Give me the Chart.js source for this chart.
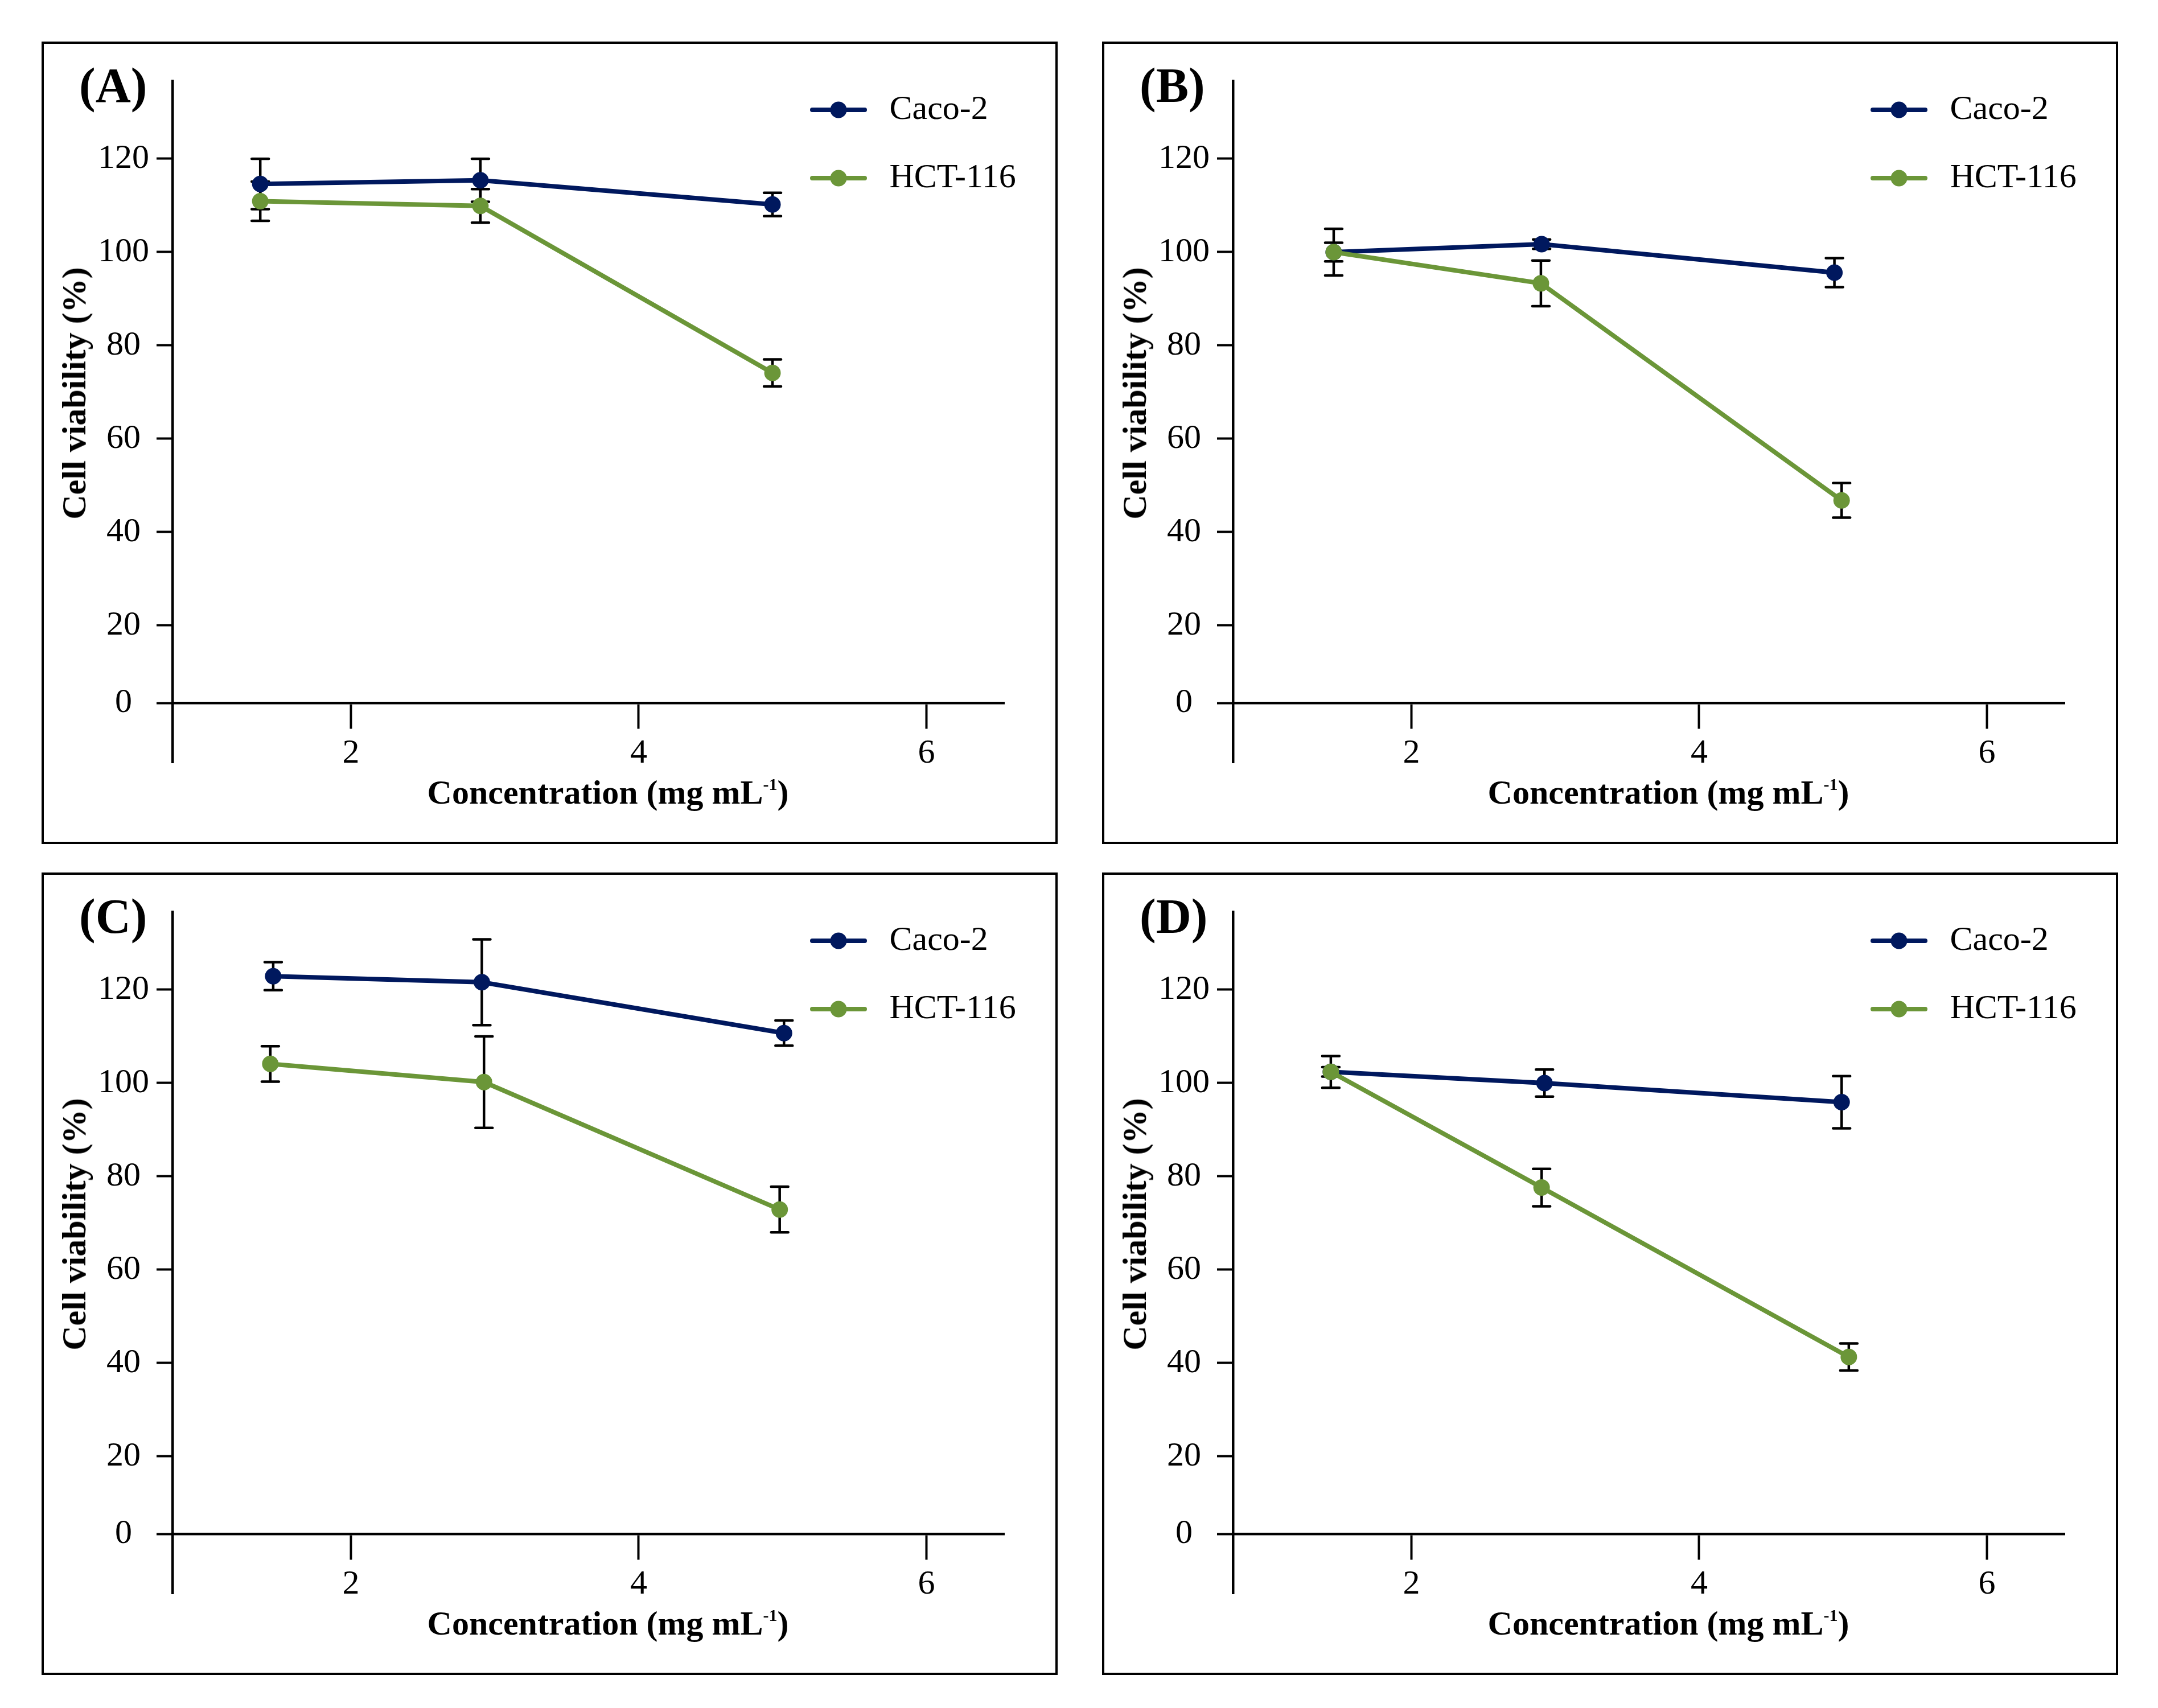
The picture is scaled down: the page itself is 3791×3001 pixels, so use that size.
<!DOCTYPE html>
<html>
<head>
<meta charset="utf-8">
<script src="https://cdn.jsdelivr.net/npm/chart.js@4.4.1/dist/chart.umd.min.js"></script>
<style>
body{margin:0;background:#fff;width:3791px;height:3001px;position:relative;overflow:hidden;font-family:"Liberation Serif","Times New Roman",serif;color:#000;}
.box{position:absolute;width:1785px;height:1410px;border:4.5px solid #000;box-sizing:border-box;}
canvas{position:absolute;}
.tag{position:absolute;font-weight:bold;font-size:86px;line-height:86px;white-space:nowrap;}
.xt{position:absolute;font-weight:bold;font-size:60px;line-height:60px;white-space:nowrap;transform:translateX(-50%);}
.yt{position:absolute;font-weight:bold;font-size:60px;line-height:60px;white-space:nowrap;transform:translate(-50%,-50%) rotate(-90deg);}
.sup{font-size:0.5em;position:relative;top:-0.8em;}
</style>
</head>
<body>
<script>
// DATA
const seriesNames=["Caco-2","HCT-116"];
const panelTags=["(A)","(B)","(C)","(D)"];
const xTicks=[2,4,6];
const yTicks=[0,20,40,60,80,100,120];

// (A)
const concCacoA=[1.37,2.90,4.93];
const cacoA=[114.6,115.4,110.2];
const cacoErrA=[5.4,4.6,2.5];
const concHctA=[1.37,2.90,4.93];
const hctA=[110.9,109.9,74.1];
const hctErrA=[4.2,3.6,2.9];

// (B)
const concCacoB=[1.46,2.905,4.94];
const cacoB=[100.0,101.7,95.6];
const cacoErrB=[2.0,1.0,3.1];
const concHctB=[1.46,2.90,4.99];
const hctB=[100.0,93.3,46.8];
const hctErrB=[5.0,4.9,3.7];

// (C)
const concCacoC=[1.46,2.91,5.01];
const cacoC=[122.9,121.6,110.7];
const cacoErrC=[3.0,9.2,2.7];
const concHctC=[1.44,2.925,4.98];
const hctC=[104.1,100.2,72.9];
const hctErrC=[3.8,9.8,4.9];

// (D)
const concCacoD=[1.44,2.925,4.99];
const cacoD=[102.4,100.0,95.9];
const cacoErrD=[3.4,2.9,5.6];
const concHctD=[1.44,2.905,5.04];
const hctD=[102.4,77.6,41.3];
const hctErrD=[1.0,4.0,2.9];

const panels=[
  {tag:panelTags[0],conc:[concCacoA,concHctA],vals:[cacoA,hctA],errs:[cacoErrA,hctErrA]},
  {tag:panelTags[1],conc:[concCacoB,concHctB],vals:[cacoB,hctB],errs:[cacoErrB,hctErrB]},
  {tag:panelTags[2],conc:[concCacoC,concHctC],vals:[cacoC,hctC],errs:[cacoErrC,hctErrC]},
  {tag:panelTags[3],conc:[concCacoD,concHctD],vals:[cacoD,hctD],errs:[cacoErrD,hctErrD]}
];

// LAYOUT / STYLE
const offsets=[[0,0],[1863,0],[0,1460],[1863,1460]];
const COLORS=["#00185e","#6b9638"];
const FONT="'Liberation Serif','Times New Roman',serif";
const X_MIN=0.76, X_MAX=6.54;
const Y_MIN=-9.4, Y_MAX=136.7;
const Y_CROSS=3.4;   // x axis sits here, labelled "0"

// legend symbol: line with a dot
function legendIcon(color){
  let c=document.createElement("canvas");
  c.width=100; c.height=32;
  let g=c.getContext("2d");
  g.strokeStyle=color; g.lineWidth=8; g.lineCap="round";
  g.beginPath(); g.moveTo(4,16); g.lineTo(96,16); g.stroke();
  g.fillStyle=color;
  g.beginPath(); g.arc(50,16,14.5,0,Math.PI*2); g.fill();
  return c;
}
const icons=COLORS.map(legendIcon);

// ERROR BARS
const errorBars={
  id:"errorBars",
  beforeDatasetsDraw(chart){
    let ctx=chart.ctx, ys=chart.scales.y;
    ctx.save();
    ctx.strokeStyle="#000"; ctx.lineWidth=4.5; ctx.lineCap="round";
    chart.data.datasets.forEach((ds,i)=>{
      chart.getDatasetMeta(i).data.forEach((pt,j)=>{
        let v=ds.data[j].y, e=ds.errors[j];
        let t=ys.getPixelForValue(v+e), b=ys.getPixelForValue(v-e);
        ctx.beginPath();
        ctx.moveTo(pt.x,t); ctx.lineTo(pt.x,b);
        ctx.moveTo(pt.x-15,t); ctx.lineTo(pt.x+15,t);
        ctx.moveTo(pt.x-15,b); ctx.lineTo(pt.x+15,b);
        ctx.stroke();
      });
    });
    ctx.restore();
  }
};

// LEGEND inside the plot, upper right
const legendSpot={
  id:"legendSpot",
  afterLayout(chart){
    let l=chart.legend;
    if(!l) return;
    l.left=1278.5; l.right=l.left+l.width;
    l.top=28; l.bottom=l.top+l.height;
  }
};

function addText(cls,html,x,y){
  let d=document.createElement("div");
  d.className=cls;
  d.innerHTML=html;
  d.style.left=x+"px";
  d.style.top=y+"px";
  document.body.appendChild(d);
}

function makePanel(p,k){
  let [dx,dy]=offsets[k];

  let box=document.createElement("div");
  box.className="box";
  box.style.left=(73+dx)+"px";
  box.style.top=(73+dy)+"px";
  document.body.appendChild(box);

  let cv=document.createElement("canvas");
  cv.width=1781; cv.height=1406;
  cv.style.left=(75+dx)+"px";
  cv.style.top=(75+dy)+"px";
  document.body.appendChild(cv);

  addText("tag",p.tag,139+dx,107+dy);
  addText("xt",'Concentration (mg mL<span class="sup">-1</span>)',1068+dx,1362+dy);
  addText("yt","Cell viability (%)",130+dx,691+dy);

  let datasets=seriesNames.map((name,i)=>({
    label:name,
    data:p.conc[i].map((x,j)=>({x:x,y:p.vals[i][j]})),
    errors:p.errs[i],
    borderColor:COLORS[i],
    backgroundColor:COLORS[i],
    pointBackgroundColor:COLORS[i],
    borderWidth:8,
    pointRadius:14.5,
    pointBorderWidth:0,
    tension:0,
    clip:false,
    order:i===0?1:0
  }));

  new Chart(cv,{
    type:"line",
    data:{datasets},
    plugins:[errorBars,legendSpot],
    options:{
      responsive:false,
      animation:false,
      devicePixelRatio:1,
      layout:{padding:{left:0,top:67,right:92,bottom:141}},
      plugins:{
        tooltip:{enabled:false},
        legend:{
          position:"chartArea",
          align:"start",
          labels:{
            usePointStyle:true,
            pointStyleWidth:119,
            padding:60,
            color:"#000",
            font:{family:FONT,size:60},
            generateLabels:chart=>chart.data.datasets.map((ds,i)=>({
              text:ds.label,pointStyle:icons[i],datasetIndex:i,
              fontColor:"#000",lineWidth:0,hidden:false
            }))
          }
        }
      },
      scales:{
        x:{
          type:"linear",
          position:{y:Y_CROSS},
          min:X_MIN,max:X_MAX,
          afterBuildTicks:s=>{s.ticks=xTicks.map(v=>({value:v}));},
          ticks:{color:"#000",font:{family:FONT,size:60},padding:10,maxRotation:0},
          grid:{drawOnChartArea:false,tickLength:43,tickWidth:4,tickColor:"#000"},
          border:{color:"#000",width:4.5}
        },
        y:{
          type:"linear",
          position:"left",
          min:Y_MIN,max:Y_MAX,
          afterBuildTicks:s=>{s.ticks=yTicks.map(v=>({value:v===0?Y_CROSS:v}));},
          afterFit:s=>{s.width=228;},
          ticks:{color:"#000",font:{family:FONT,size:60},padding:13,crossAlign:"center",
                 callback:v=>v===Y_CROSS?"0":String(v)},
          grid:{drawOnChartArea:false,tickLength:28,tickWidth:4,tickColor:"#000"},
          border:{color:"#000",width:4.5}
        }
      }
    }
  });
}

panels.forEach(makePanel);
</script>
</body>
</html>
